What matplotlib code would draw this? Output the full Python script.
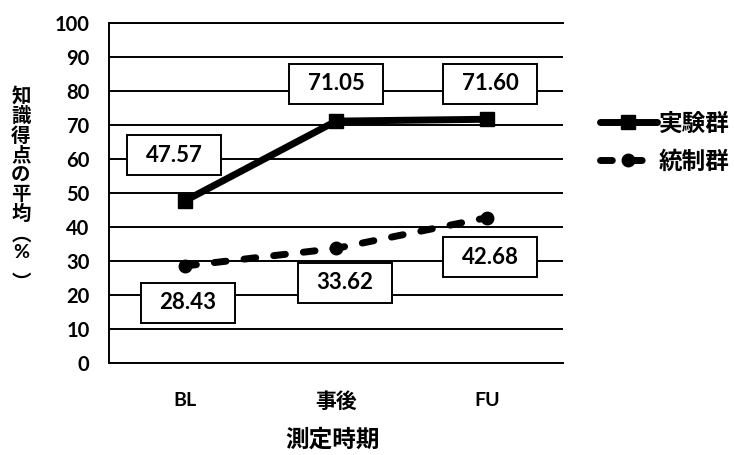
import matplotlib
matplotlib.use("Agg")
import matplotlib.pyplot as plt
from matplotlib.patches import Rectangle
from matplotlib.lines import Line2D

plt.rcParams['font.family'] = ['Lato', 'Noto Sans CJK JP', 'DejaVu Sans']
plt.rcParams['font.weight'] = 'bold'
CJK = ['Noto Sans CJK JP', 'DejaVu Sans']

# data
periods = ['BL', '事後', 'FU']
experimental = [47.57, 71.05, 71.60]
control = [28.43, 33.62, 42.68]
series_names = ['実験群', '統制群']
yticks = list(range(0, 101, 10))

# label box placement (x offset in category units, y centre in data units)
exp_label_pos = [(-0.07, 61.0), (0.0, 82.0), (0.02, 82.0)]
ctl_label_pos = [(0.02, 17.6), (0.06, 23.5), (0.02, 31.0)]

W, H = 734, 455
fig = plt.figure(figsize=(W / 100, H / 100), dpi=100)
ax = fig.add_axes([109 / W, 1 - 362.7 / H, (563 - 109) / W, 340 / H])

x = list(range(len(periods)))
ax.set_xlim(-0.5, len(periods) - 0.5)
ax.set_ylim(0, 100)
ax.set_yticks(yticks)
ax.set_xticks(x)
ax.set_xticklabels(periods)
ax.tick_params(axis='y', length=0, labelsize=14.5, pad=14)
ax.tick_params(axis='x', length=0, labelsize=14, pad=21)
for lab in ax.get_xticklabels() + ax.get_yticklabels():
    lab.set_fontweight('bold')
ax.get_xticklabels()[1].set_fontsize(15)

ax.grid(axis='y', color='black', linewidth=1.4)
ax.set_axisbelow(True)
for s in ['left', 'bottom', 'top']:
    ax.spines[s].set_linewidth(1.4)
ax.spines['right'].set_visible(False)

solid_style = dict(color='black', linewidth=5, marker='s', markersize=10,
                   solid_capstyle='round')
dash_style = dict(color='black', linewidth=5, linestyle=(0, (1.7, 2.6)),
                  marker='o', markersize=9, dash_capstyle='round')

ax.plot(x, experimental, zorder=3, **solid_style)
ax.plot(x, control, zorder=3, **dash_style)

box_w = 0.62
box_h = 11.7


def value_box(cx, cy, val):
    ax.add_patch(Rectangle((cx - box_w / 2, cy - box_h / 2), box_w, box_h,
                           facecolor='white', edgecolor='black',
                           linewidth=1.4, zorder=4))
    ax.text(cx, cy, f'{val:.2f}', ha='center', va='center', fontsize=16,
            fontweight='bold', zorder=5)


for xi, val, (dx, cy) in zip(x, experimental, exp_label_pos):
    value_box(xi + dx, cy, val)
for xi, val, (dx, cy) in zip(x, control, ctl_label_pos):
    value_box(xi + dx, cy, val)

# y axis title, set vertically one character at a time
ylabel_chars = ['知', '識', '得', '点', 'の', '平', '均', '︵', '%', '︶']
ylabel_rows = [97, 116.5, 136, 155.5, 175, 194.5, 214, 235, 253, 283]
for ch, ypix in zip(ylabel_chars, ylabel_rows):
    pos = (21 / W, 1 - ypix / H)
    if ch == '%':
        fig.text(*pos, ch, ha='center', va='center', fontsize=14,
                 fontweight='bold')
    else:
        fig.text(*pos, ch, ha='center', va='center', fontsize=14,
                 fontweight='bold', family=CJK)

fig.text(333 / W, 1 - 440 / H, '測定時期', ha='center', va='center',
         fontsize=17, fontweight='bold', family=CJK)

handles = [Line2D([], [], **solid_style), Line2D([], [], **dash_style)]
fig.legend(handles, series_names, loc='center left',
           bbox_to_anchor=(600 / W, 1 - 142.5 / H), frameon=False,
           borderpad=0, borderaxespad=0, handlelength=2.4,
           handletextpad=0.1, labelspacing=0.6,
           prop={'family': CJK, 'weight': 'bold', 'size': 17})

fig.savefig('out.png', dpi=100)
